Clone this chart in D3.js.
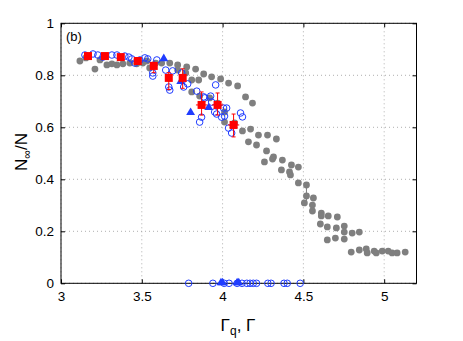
<!DOCTYPE html>
<html>
<head>
<meta charset="utf-8">
<script src="https://cdn.jsdelivr.net/npm/d3@7"></script>
<style>
  body { margin: 0; background: #fff; }
  text { font-family: "Liberation Sans", Arial, sans-serif; }
</style>
</head>
<body>
<div id="chart"></div>
<script>
// tick values
var xTicks = [3, 3.5, 4, 4.5, 5];
var yTicks = [0, 0.2, 0.4, 0.6, 0.8, 1];

// grey dots (Gamma, N_inf/N)
var grayX = [3.117, 3.154, 3.210, 3.241, 3.284, 3.315, 3.346, 3.383, 3.426, 3.469, 3.506, 3.531, 3.549, 3.586, 3.623, 3.673,
  3.722, 3.778, 3.833, 3.883, 3.932, 3.988, 4.037, 4.093, 4.142, 4.185,
  3.722, 3.772, 3.809, 3.852, 3.809, 3.858, 3.920, 3.969, 4.012, 4.012, 4.074,
  4.123, 4.173, 4.222, 4.278, 4.333, 4.160, 4.210, 4.272, 4.315, 4.309, 4.370, 4.259, 4.426, 4.469, 4.364, 4.414, 4.420,
  4.469, 4.519, 4.519, 4.562, 4.506, 4.556, 4.556, 4.611, 4.611, 4.654, 4.710, 4.605, 4.648, 4.704, 4.753, 4.753, 4.802, 4.846,
  4.648, 4.698, 4.753, 4.796, 4.846, 4.889, 4.895, 4.938, 4.951, 4.988, 5.025, 5.049, 5.080, 5.130];
var grayY = [0.855, 0.867, 0.824, 0.859, 0.840, 0.844, 0.840, 0.844, 0.847, 0.844, 0.847, 0.855, 0.828, 0.847, 0.847, 0.847,
  0.840, 0.832, 0.824, 0.805, 0.794, 0.786, 0.770, 0.759, 0.717, 0.693,
  0.820, 0.809, 0.782, 0.782, 0.736, 0.720, 0.713, 0.693, 0.659, 0.620, 0.617,
  0.586, 0.593, 0.570, 0.570, 0.555, 0.544, 0.532, 0.509, 0.486, 0.478, 0.474, 0.467, 0.455, 0.447, 0.436, 0.428, 0.417,
  0.386, 0.378, 0.336, 0.328, 0.309, 0.301, 0.278, 0.270, 0.259, 0.259, 0.255, 0.228, 0.217, 0.213, 0.220, 0.197, 0.193, 0.197,
  0.167, 0.174, 0.170, 0.120, 0.128, 0.132, 0.117, 0.124, 0.117, 0.124, 0.124, 0.117, 0.117, 0.120];
// one grey error bar
var grayErrX = [4.519];
var grayErrLo = [0.309];
var grayErrHi = [0.378];

// blue open circles
var circX = [3.148, 3.198, 3.228, 3.259, 3.315, 3.346, 3.395, 3.420, 3.438, 3.457, 3.488, 3.519, 3.537, 3.593,
  3.568, 3.568, 3.648, 3.691, 3.747, 3.784, 3.759, 3.667, 3.673, 3.840, 3.957, 3.926, 3.883, 3.932, 3.889,
  4.025, 4.012, 3.994, 3.963, 3.951, 4.006, 3.870, 3.858, 4.111, 4.123, 4.037, 4.056,
  3.79, 3.94, 4.01, 4.04, 4.09, 4.12, 4.15, 4.17, 4.19, 4.21, 4.28, 4.30, 4.38, 4.40, 4.48];
var circY = [0.878, 0.882, 0.878, 0.870, 0.878, 0.878, 0.874, 0.870, 0.863, 0.847, 0.859, 0.867, 0.863, 0.859,
  0.809, 0.797, 0.820, 0.817, 0.809, 0.767, 0.755, 0.755, 0.743, 0.739, 0.763, 0.720, 0.717, 0.697, 0.713,
  0.674, 0.643, 0.639, 0.651, 0.659, 0.674, 0.639, 0.620, 0.655, 0.640, 0.597, 0.578,
  0, 0, 0, 0, 0, 0, 0, 0, 0, 0, 0, 0, 0, 0, 0];

// blue filled triangles
var triX = [3.636, 3.741, 3.802, 3.914, 3.99, 4.00, 4.09, 4.10];
var triY = [0.862, 0.774, 0.655, 0.674, 0, 0, 0, 0];

// red squares with error bars
var redX = [3.167, 3.272, 3.370, 3.475, 3.574, 3.667, 3.753, 3.870, 3.969, 4.068];
var redY = [0.874, 0.874, 0.870, 0.855, 0.836, 0.790, 0.790, 0.686, 0.686, 0.609];
var redLo = [0.874, 0.874, 0.870, 0.855, 0.810, 0.745, 0.750, 0.647, 0.647, 0.563];
var redHi = [0.874, 0.874, 0.870, 0.855, 0.850, 0.810, 0.825, 0.736, 0.732, 0.651];
var redDx = [0, 0, 0, 0, 0, 0, 0, 0.035, 0.035, 0.035];

var W = 463, H = 341;
var pLeft = 61, pRight = 416.5, pTop = 23.3, pBottom = 283.3;

var svg = d3.select("#chart").append("svg")
  .attr("width", W)
  .attr("height", H);

var x = d3.scaleLinear().domain([3, 5.2]).range([pLeft, pRight]);
var y = d3.scaleLinear().domain([0, 1]).range([pBottom, pTop]);

// grid
var grid = svg.append("g");
grid.selectAll(".gx").data(xTicks).enter().append("line")
  .attr("x1", function (d) { return x(d); }).attr("x2", function (d) { return x(d); })
  .attr("y1", pTop).attr("y2", pBottom)
  .attr("stroke", "#9a9a9a").attr("stroke-width", 0.8).attr("stroke-dasharray", "1,3");
grid.selectAll(".gy").data(yTicks).enter().append("line")
  .attr("y1", function (d) { return y(d); }).attr("y2", function (d) { return y(d); })
  .attr("x1", pLeft).attr("x2", pRight)
  .attr("stroke", "#9a9a9a").attr("stroke-width", 0.8).attr("stroke-dasharray", "1,3");

// axes (ticks inward), plus mirrored ticks on top/right
var fmt = function (d) { return d3.format("")(d); };
svg.append("g").attr("transform", "translate(0," + pBottom + ")")
  .call(d3.axisBottom(x).tickValues(xTicks).tickSize(-4).tickPadding(8).tickFormat(fmt));
svg.append("g").attr("transform", "translate(" + pLeft + ",0)")
  .call(d3.axisLeft(y).tickValues(yTicks).tickSize(-4).tickPadding(7).tickFormat(fmt));
svg.append("g").attr("transform", "translate(0," + pTop + ")")
  .call(d3.axisTop(x).tickValues(xTicks).tickSize(-4).tickFormat(""));
svg.append("g").attr("transform", "translate(" + pRight + ",0)")
  .call(d3.axisRight(y).tickValues(yTicks).tickSize(-4).tickFormat(""));
svg.selectAll(".domain").remove();
svg.selectAll(".tick text").attr("font-size", 13.5).attr("fill", "#000")
  .attr("font-family", "Liberation Sans, Arial, sans-serif");
svg.selectAll(".tick line").attr("stroke", "#000");

// box
svg.append("rect")
  .attr("x", pLeft).attr("y", pTop)
  .attr("width", pRight - pLeft).attr("height", pBottom - pTop)
  .attr("fill", "none").attr("stroke", "#000").attr("stroke-width", 1);

var plot = svg.append("g");

// grey dots
var grayData = d3.range(grayX.length).map(function (i) { return [grayX[i], grayY[i]]; });
plot.selectAll(".gerr").data(grayErrX).enter().append("line")
  .attr("x1", function (d) { return x(d); }).attr("x2", function (d) { return x(d); })
  .attr("y1", function (d, i) { return y(grayErrLo[i]); })
  .attr("y2", function (d, i) { return y(grayErrHi[i]); })
  .attr("stroke", "#7f7f7f").attr("stroke-width", 1);
plot.selectAll(".gray").data(grayData).enter().append("circle")
  .attr("cx", function (d) { return x(d[0]); })
  .attr("cy", function (d) { return y(d[1]); })
  .attr("r", 3.4)
  .attr("fill", "#7f7f7f");

// blue circles
var circData = d3.range(circX.length).map(function (i) { return [circX[i], circY[i]]; });
plot.selectAll(".circ").data(circData).enter().append("circle")
  .attr("cx", function (d) { return x(d[0]); })
  .attr("cy", function (d) { return y(d[1]); })
  .attr("r", 3.3)
  .attr("fill", "none")
  .attr("stroke", "#1f3cff")
  .attr("stroke-width", 1);

// blue triangles
var triData = d3.range(triX.length).map(function (i) { return [triX[i], triY[i]]; });
var tri = d3.symbol().type(d3.symbolTriangle).size(34);
plot.selectAll(".tri").data(triData).enter().append("path")
  .attr("d", tri)
  .attr("transform", function (d) { return "translate(" + x(d[0]) + "," + (y(d[1]) - 0.5) + ")"; })
  .attr("fill", "#1f3cff");

// red error bars and squares
var redData = d3.range(redX.length).map(function (i) {
  return { x: redX[i], y: redY[i], lo: redLo[i], hi: redHi[i], dx: redDx[i] };
});
var rg = plot.selectAll(".red").data(redData).enter().append("g");
rg.append("line")
  .attr("x1", function (d) { return x(d.x); }).attr("x2", function (d) { return x(d.x); })
  .attr("y1", function (d) { return y(d.lo); }).attr("y2", function (d) { return y(d.hi); })
  .attr("stroke", "#ff0000").attr("stroke-width", 1);
rg.append("line")
  .attr("x1", function (d) { return x(d.x - d.dx); }).attr("x2", function (d) { return x(d.x + d.dx); })
  .attr("y1", function (d) { return y(d.y); }).attr("y2", function (d) { return y(d.y); })
  .attr("stroke", "#ff0000").attr("stroke-width", 1);
rg.filter(function (d) { return d.hi > d.lo; }).append("line")
  .attr("x1", function (d) { return x(d.x) - 2; }).attr("x2", function (d) { return x(d.x) + 2; })
  .attr("y1", function (d) { return y(d.hi); }).attr("y2", function (d) { return y(d.hi); })
  .attr("stroke", "#ff0000").attr("stroke-width", 1);
rg.filter(function (d) { return d.hi > d.lo; }).append("line")
  .attr("x1", function (d) { return x(d.x) - 2; }).attr("x2", function (d) { return x(d.x) + 2; })
  .attr("y1", function (d) { return y(d.lo); }).attr("y2", function (d) { return y(d.lo); })
  .attr("stroke", "#ff0000").attr("stroke-width", 1);
rg.append("rect")
  .attr("x", function (d) { return x(d.x) - 4; })
  .attr("y", function (d) { return y(d.y) - 4; })
  .attr("width", 8).attr("height", 8)
  .attr("fill", "#ff0000");

// panel label
svg.append("text").attr("x", 66).attr("y", 41)
  .attr("font-size", 13).text("(b)");

// axis labels
var xl = svg.append("text")
  .attr("x", 238).attr("y", 331)
  .attr("text-anchor", "middle")
  .attr("font-size", 17);
xl.append("tspan").text("Γ");
xl.append("tspan").attr("font-size", 12).attr("dy", 4).text("q");
xl.append("tspan").attr("dy", -4).text(", Γ");

var yl = svg.append("text")
  .attr("transform", "translate(27,152) rotate(-90)")
  .attr("text-anchor", "middle")
  .attr("font-size", 17);
yl.append("tspan").text("N");
yl.append("tspan").attr("font-size", 12).attr("dy", 4).text("∞");
yl.append("tspan").attr("dy", -4).text("/N");
</script>
</body>
</html>
